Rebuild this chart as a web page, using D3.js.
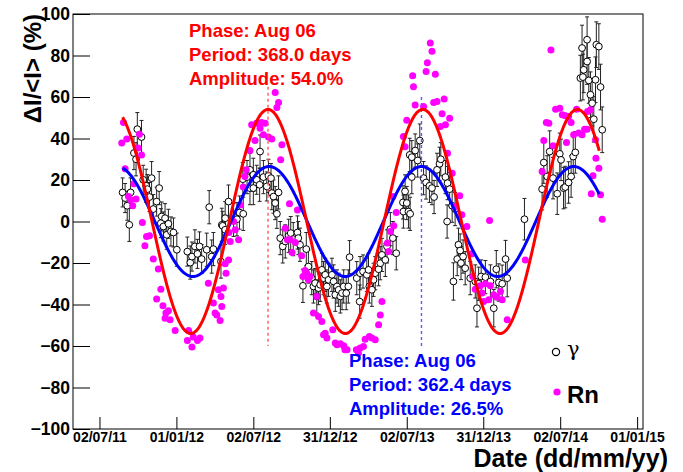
<!DOCTYPE html>
<html>
<head>
<meta charset="utf-8">
<script src="https://cdn.jsdelivr.net/npm/d3@7"></script>
<style>
body { margin: 0; background: #fff; }
</style>
</head>
<body>
<script>
// day offsets are counted from this date
const dayZero = "2011-07-02";

// Rn points: [day, value in %]
const rnPoints = [
  [53,37.8],[57,47.7],[61,25.4],[65,39.7],[69,12.0],[74,10.5],[79,7.6],[82,18.2],[87,10.8],[92,35.4],
  [95,42.1],[100,32.1],[102,-0.5],[108,-11.7],[112,-7.2],[119,-6.9],[128,-18.1],[136,-37.4],[140,-22.9],
  [146,-32.6],[151,-40.6],[156,-46.6],[158,-44.1],[164,-43.0],[168,-47.4],[180,-52.5],[209,-57.3],
  [212,-52.5],[220,-60.5],[223,-55.7],[233,-57.3],[239,-56.2],[259,-29.7],[271,-39.3],[275,-44.1],
  [279,-45.0],[283,-32.9],[287,-47.7],[289,-36.1],[291,-41.0],[295,-32.1],[299,-20.4],[301,-24.9],
  [307,-18.5],[308,-5.3],[311,-9.6],[319,0.0],[323,-4.0],[331,-8.8],[335,8.0],[342,16.6],[346,21.7],
  [349,24.9],[358,34.2],[362,46.6],[370,39.0],[374,47.4],[382,45.0],[386,47.7],[390,41.8],[394,47.4],
  [402,40.7],[410,39.7],[418,62.2],[422,54.9],[426,57.3],[431,29.7],[434,37.0],[442,-3.2],[447,-8.8],
  [452,8.5],[454,-8.8],[458,-14.9],[466,-10.1],[471,5.6],[481,-16.5],[484,-26.5],[489,-23.6],[493,-24.9],
  [497,-28.1],[501,-26.5],[509,-44.1],[517,-36.1],[521,-45.8],[529,-48.2],[533,-54.6],[537,-53.8],
  [541,-56.2],[555,-52.2],[561,-58.6],[565,-59.4],[573,-58.9],[581,-59.9],[584,-61.8],[589,-61.8],
  [611,-61.8],[616,-63.4],[620,-61.0],[628,-60.2],[632,-56.7],[642,-55.4],[648,-56.2],[656,-57.0],
  [664,-49.8],[668,-45.0],[672,-38.6],[685,-10.4],[688,-14.5],[692,-4.8],[698,12.0],[700,-2.0],[706,4.3],
  [723,41.0],[727,36.0],[731,48.8],[745,70.3],[747,65.0],[751,56.2],[771,55.4],[777,72.3],[780,76.5],
  [787,86.0],[791,82.0],[795,57.3],[799,71.0],[803,57.8],[811,45.8],[815,51.9],[820,59.0],[823,46.6],
  [828,32.9],[833,49.8],[839,23.3],[846,7.2],[857,12.4],[862,3.2],[874,-2.4],[886,-15.6],[888,-26.5],
  [894,-32.6],[906,-31.0],[910,-34.5],[914,-38.6],[918,-30.0],[926,-37.7],[928,0.5],[930,-31.0],
  [938,-35.3],[946,-36.5],[954,-33.7],[958,-37.7],[970,-47.4],[1013,-18.5],[1053,24.1],[1057,39.0],
  [1063,47.7],[1069,47.4],[1074,82.7],[1079,36.5],[1085,54.1],[1095,54.6],[1101,51.4],[1108,51.0],
  [1111,38.1],[1116,50.6],[1122,47.7],[1128,41.8],[1135,54.1],[1140,42.6],[1148,41.8],[1154,44.5],
  [1160,44.5],[1161,53.0],[1168,53.8],[1170,13.4],[1174,22.0],[1180,39.4],[1181,30.5],[1188,25.7],
  [1192,12.9],[1196,1.1]
];

// gamma points: [day, value in %, error in %]
const gammaPoints = [
  [55,14.0,7],[61,11.3,7],[66,7.6,7],[71,-1.6,8],[74,14.0,7],[82,33.0,8],[87,30.0,8],[90,44.5,8],
  [100,40.7,8],[104,20.1,7],[111,17.2,8],[114,15.6,7],[119,11.8,7],[124,20.9,8],[128,6.0,7],[136,9.6,7],
  [142,16.1,8],[146,-0.8,7],[148,2.4,7],[152,-2.4,7],[156,1.6,7],[160,-6.4,7],[164,-1.1,7],[170,-4.8,7],
  [176,-5.3,7],[184,-13.6,8],[209,-14.5,7],[216,-19.8,8],[220,-16.9,7],[227,-12.0,8],[233,-15.6,7],
  [238,-12.0,7],[243,-18.1,7],[255,-13.6,8],[261,6.9,8],[267,-16.9,8],[271,-13.3,8],[289,-19.3,8],
  [291,-1.6,8],[293,-2.1,7],[299,1.6,8],[299,-4.0,7],[307,9.6,8],[319,0.8,8],[327,1.1,8],[333,4.3,8],
  [341,20.4,8],[342,3.7,8],[351,21.4,8],[358,24.9,8],[358,16.1,8],[366,22.5,8],[366,16.1,8],[374,20.1,7],
  [381,17.7,8],[382,33.7,8],[390,21.4,8],[398,16.9,7],[402,22.0,8],[408,20.9,7],[410,13.7,8],[414,12.0,8],
  [418,8.9,8],[422,3.7,7],[426,14.0,8],[430,-8.0,8],[436,-12.0,8],[442,-9.6,8],[450,-6.9,8],[455,-5.6,8],
  [461,-8.5,8],[471,-5.3,8],[473,-8.0,8],[477,-11.2,8],[484,-31.0,8],[492,-13.3,8],[497,-21.7,8],
  [505,-27.3,8],[509,-31.3,8],[513,-29.7,7],[517,-36.1,8],[521,-32.1,8],[525,-30.5,8],[529,-23.3,8],
  [533,-27.3,8],[537,-25.7,8],[541,-31.3,8],[545,-28.1,8],[553,-25.7,8],[557,-28.9,8],[561,-35.3,8],
  [565,-31.3,8],[569,-32.9,8],[573,-36.1,8],[577,-34.5,8],[581,-31.3,8],[587,-34.5,8],[592,-31.3,8],
  [595,-17.2,8],[612,-27.3,8],[619,-38.6,8],[620,-24.9,8],[627,-24.1,8],[636,-25.7,8],[640,-23.3,8],
  [642,-31.3,8],[648,-32.9,8],[652,-28.1,8],[656,-24.9,8],[664,-23.0,8],[668,-20.1,8],[672,-16.1,8],
  [680,-18.5,8],[684,-12.0,8],[692,-3.7,8],[698,-8.0,8],[706,-15.3,8],[722,9.2,8],[723,4.8,8],
  [727,14.5,8],[731,8.9,8],[735,4.8,8],[738,32.1,8],[739,3.7,8],[743,31.0,8],[743,21.4,8],[751,34.2,8],
  [757,29.4,8],[762,39.0,8],[771,20.9,8],[777,18.8,8],[785,17.2,8],[791,16.1,8],[796,11.8,8],[803,24.9,8],
  [809,27.8,8],[812,30.0,8],[823,21.4,8],[827,0.0,8],[828,18.5,8],[833,15.6,8],[839,7.6,8],[842,-28.9,9],
  [846,6.0,8],[851,-18.1,8],[854,-11.2,8],[858,-14.0,8],[860,-20.0,8],[865,-16.9,8],[870,-22.5,8],
  [882,-27.3,8],[894,-28.9,8],[898,-41.8,9],[902,-30.0,8],[908,-26.5,8],[918,-26.8,8],[930,-28.9,8],
  [938,-41.8,9],[944,-23.0,9],[950,-29.4,9],[958,-30.0,9],[966,-18.1,9],[970,-27.3,9],[1011,1.1,10],
  [1053,15.6,10],[1057,28.4,10],[1065,21.7,10],[1071,33.7,10],[1079,20.9,10],[1089,13.4,10],
  [1095,32.6,10],[1098,29.7,10],[1104,16.1,10],[1108,16.6,10],[1116,18.8,10],[1122,21.7,10],
  [1127,31.3,10],[1132,33.3,10],[1144,69.1,11],[1148,83.6,11],[1150,69.6,11],[1152,73.1,11],
  [1160,87.6,11],[1160,77.1,11],[1164,68.0,11],[1168,61.1,11],[1172,57.0,11],[1176,49.3,11],
  [1180,68.3,11],[1182,85.2,11],[1188,84.3,11],[1192,64.8,11],[1196,44.2,11]
];

// cosine fits: Rn (red) and gamma (blue)
const fitAmp = [54.0, 26.5];
const fitPeriod = [368.0, 362.4];
const fitPeak = ["2012-08-06", "2013-08-06"];
const fitColor = ["#ff0000", "#0000ff"];
const fitDash = ["#ff5a5a", "#5a5aff"];
const fitDays = [55, 1190];

// x axis
const tickDates = ["2011-07-02","2012-01-01","2012-07-02","2012-12-31","2013-07-02","2013-12-31","2014-07-02","2015-01-01"];
const xRange = ["2011-04-30", "2015-01-15"];
const yTicks = d3.range(-100, 101, 20);

const w = 683, h = 472;
const L = 73, R = 643, T = 14, B = 429;
const font = "Liberation Sans, Arial, Helvetica, sans-serif";

const parse = d3.utcParse("%Y-%m-%d");
const t0 = parse(dayZero).getTime();
const dayDate = d => new Date(t0 + d * 864e5);

const x = d3.scaleUtc().domain(xRange.map(parse)).range([L, R]);
const y = d3.scaleLinear().domain([-100, 100]).range([B, T]);

const svg = d3.select("body").append("svg")
    .attr("width", w)
    .attr("height", h)
    .style("font-family", font)
    .style("font-weight", "bold");

// frame
svg.append("rect")
    .attr("x", L).attr("y", T)
    .attr("width", R - L).attr("height", B - T)
    .attr("fill", "none")
    .attr("stroke", "#000")
    .attr("stroke-width", 1);

// x axis: majors at the dates, two minors between each pair
const majors = tickDates.map(parse);
const minors = [];
for (let i = 0; i < majors.length - 1; i++) {
    const a = majors[i].getTime(), b = majors[i + 1].getTime();
    minors.push(new Date(a + (b - a) / 3), new Date(a + 2 * (b - a) / 3));
}
const fmt = d3.utcFormat("%d/%m/%y");

const gx = svg.append("g").attr("transform", `translate(0,${B})`);
gx.call(d3.axisBottom(x).tickValues(minors).tickSizeInner(-6).tickSizeOuter(0).tickFormat(""));
gx.call(d3.axisBottom(x).tickValues(majors).tickSizeInner(-12).tickSizeOuter(0).tickPadding(3).tickFormat(fmt));
gx.selectAll(".domain").remove();
gx.attr("font-family", null).attr("font-size", null);
gx.selectAll("text").style("font-size", "14px").attr("fill", "#000");

// y axis
const gy = svg.append("g").attr("transform", `translate(${L},0)`);
gy.call(d3.axisLeft(y).tickValues(d3.range(-100, 101, 4)).tickSizeInner(-9).tickSizeOuter(0).tickFormat(""));
gy.call(d3.axisLeft(y).tickValues(yTicks).tickSizeInner(-17).tickSizeOuter(0).tickPadding(3));
gy.selectAll(".domain").remove();
gy.attr("font-family", null).attr("font-size", null);
gy.selectAll("text").style("font-size", "17.5px").attr("fill", "#000");

// axis titles
svg.append("text")
    .attr("transform", "translate(41," + T + ") rotate(-90)")
    .attr("text-anchor", "end")
    .style("font-size", "24px")
    .text("ΔI/<I> (%)");

svg.append("text")
    .attr("x", 668).attr("y", 466.5)
    .attr("text-anchor", "end")
    .style("font-size", "25px")
    .text("Date (dd/mm/yy)");

// gamma error bars
const bars = svg.append("g").attr("stroke", "#222").attr("stroke-width", 1);
gammaPoints.forEach(function(d) {
    const cx = x(dayDate(d[0]));
    const y1 = y(d[1] + d[2]), y2 = y(d[1] - d[2]);
    bars.append("line").attr("x1", cx).attr("x2", cx).attr("y1", y1).attr("y2", y2);
    bars.append("line").attr("x1", cx - 2).attr("x2", cx + 2).attr("y1", y1).attr("y2", y1);
    bars.append("line").attr("x1", cx - 2).attr("x2", cx + 2).attr("y1", y2).attr("y2", y2);
});

// gamma markers
svg.append("g").selectAll("circle")
    .data(gammaPoints)
    .enter()
    .append("circle")
    .attr("cx", d => x(dayDate(d[0])))
    .attr("cy", d => y(d[1]))
    .attr("r", 3.4)
    .attr("fill", "#fff")
    .attr("stroke", "#000")
    .attr("stroke-width", 1);

// Rn markers
svg.append("g").selectAll("circle")
    .data(rnPoints)
    .enter()
    .append("circle")
    .attr("cx", d => x(dayDate(d[0])))
    .attr("cy", d => y(d[1]))
    .attr("r", 3.5)
    .attr("fill", "#ff00ff");

// dashed lines at the fitted maxima
const dashTop = [65, 60];
fitPeak.forEach(function(p, i) {
    const px = x(parse(p));
    svg.append("line")
        .attr("x1", px).attr("x2", px)
        .attr("y1", y(dashTop[i])).attr("y2", y(-60))
        .attr("stroke", fitDash[i])
        .attr("stroke-width", 1.4)
        .attr("stroke-dasharray", "3,3");
});

// fitted cosines, blue first then red
const line = d3.line().x(d => d[0]).y(d => d[1]);
[1, 0].forEach(function(i) {
    const peak = parse(fitPeak[i]).getTime();
    const pts = d3.range(fitDays[0], fitDays[1] + 1, 2).map(function(d) {
        const t = dayDate(d);
        const v = fitAmp[i] * Math.cos(2 * Math.PI * (t.getTime() - peak) / 864e5 / fitPeriod[i]);
        return [x(t), y(v)];
    });
    svg.append("path")
        .attr("d", line(pts))
        .attr("fill", "none")
        .attr("stroke", fitColor[i])
        .attr("stroke-width", 3);
});

// fit parameter labels
const mon = d3.utcFormat("%b %d");
const labelX = [189, 349];
const labelY = [37, 367];
fitPeak.forEach(function(p, i) {
    const lines = [
        "Phase: " + mon(parse(p)),
        "Period: " + fitPeriod[i].toFixed(1) + " days",
        "Amplitude: " + fitAmp[i].toFixed(1) + "%"
    ];
    svg.selectAll(null)
        .data(lines)
        .enter()
        .append("text")
        .attr("x", labelX[i])
        .attr("y", (d, k) => labelY[i] + k * 24)
        .style("font-size", "18.5px")
        .attr("fill", fitColor[i])
        .text(d => d);
});

// legend
svg.append("circle").attr("cx", 556).attr("cy", 352).attr("r", 3.6)
    .attr("fill", "#fff").attr("stroke", "#000").attr("stroke-width", 1.2);
svg.append("text").attr("x", 567).attr("y", 356)
    .style("font-family", "DejaVu Serif, Liberation Serif, serif")
    .style("font-weight", "normal")
    .style("font-size", "21px")
    .text("γ");
svg.append("circle").attr("cx", 557).attr("cy", 392).attr("r", 3.6)
    .attr("fill", "#ff00ff");
svg.append("text").attr("x", 567).attr("y", 403)
    .style("font-size", "24px")
    .text("Rn");
</script>
</body>
</html>
